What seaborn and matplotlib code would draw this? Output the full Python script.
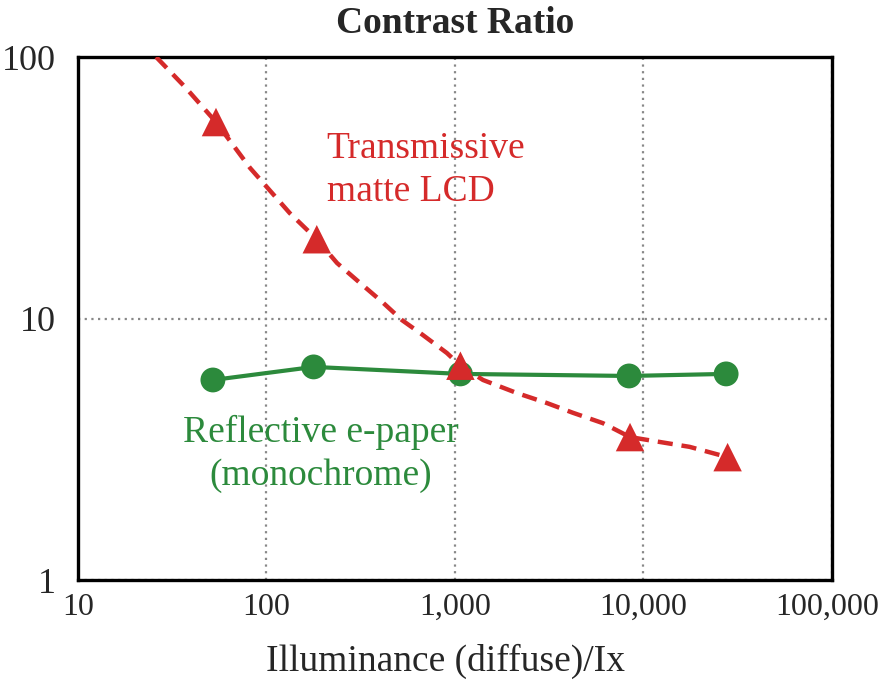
import matplotlib
matplotlib.use("Agg")
import matplotlib.pyplot as plt
import matplotlib.transforms as mtransforms
import seaborn as sns
import pandas as pd
from matplotlib.ticker import FixedLocator, NullLocator

# Data
lcd_x = [54, 185, 1070, 8500, 28000]
lcd_y = [56.4, 20.1, 6.6, 3.52, 2.95]
# dashed curve trace
lcd_curve_x = [26, 37, 54, 82, 133, 185, 237, 313, 410, 524, 676, 907, 1070,
               1410, 2130, 3080, 4230, 6100, 8500, 17600, 28000]
lcd_curve_y = [100, 76.8, 56.4, 37.6, 25.3, 20.1, 16.3, 13.7, 11.6, 9.86, 8.65,
               7.38, 6.6, 5.82, 5.19, 4.75, 4.36, 3.98, 3.52, 3.23, 2.95]

epaper_x = [52, 178, 1070, 8400, 27500]
epaper_y = [5.82, 6.53, 6.14, 6.03, 6.14]

x_ticks = [10, 100, 1000, 10000, 100000]
x_ticklabels = ["10", "100", "1,000", "10,000", "100,000"]
y_ticks = [1, 10, 100]
y_ticklabels = ["1", "10", "100"]

RED = "#d52a2a"
GREEN = "#2c8a3c"

sns.set_style("white")
plt.rcParams["font.family"] = ["Liberation Serif", "DejaVu Serif"]

fig = plt.figure(figsize=(8.83, 6.83), dpi=100)
ax = fig.add_axes([0.0883, 0.1508, 0.942 - 0.0883, 0.9165 - 0.1508])

ax.set_xscale("log")
ax.set_yscale("log")

curve = pd.DataFrame({"x": lcd_curve_x, "y": lcd_curve_y})
lcd = pd.DataFrame({"x": lcd_x, "y": lcd_y})
ep = pd.DataFrame({"x": epaper_x, "y": epaper_y})

sns.lineplot(data=ep, x="x", y="y", ax=ax, color=GREEN, lw=3.0, zorder=3)
sns.scatterplot(data=ep, x="x", y="y", ax=ax, color=GREEN, marker="o", s=320,
                edgecolor="none", zorder=4)
sns.lineplot(data=curve, x="x", y="y", ax=ax, color=RED, lw=3.2, zorder=5)
ax.lines[-1].set_dashes((3.4, 2.0))
sns.scatterplot(data=lcd, x="x", y="y", ax=ax, color=RED, marker="^", s=420,
                edgecolor="none", zorder=6)

ax.set_xlim(10, 100000)
ax.set_ylim(1, 100)

ax.xaxis.set_major_locator(FixedLocator(x_ticks))
ax.xaxis.set_minor_locator(NullLocator())
ax.yaxis.set_major_locator(FixedLocator(y_ticks))
ax.yaxis.set_minor_locator(NullLocator())
ax.set_xticklabels(x_ticklabels, fontsize=23)
ax.set_yticklabels(y_ticklabels, fontsize=26)
ax.tick_params(axis="x", length=0, pad=9)
ax.tick_params(axis="y", length=0, pad=16)

# nudge the last x label left so it stays inside the figure
last = ax.get_xticklabels()[-1]
last.set_transform(last.get_transform() +
                   mtransforms.ScaledTranslation(-5 / 100, 0, fig.dpi_scale_trans))

ax.grid(True, which="major", color="#888888", ls=(0, (1, 2)), lw=1.6)
for s in ax.spines.values():
    s.set_color("black")
    s.set_linewidth(2.4)
    s.set_visible(True)

ax.set_xlabel("Illuminance (diffuse)/Ix", fontsize=27, labelpad=16)
ax.xaxis.label.set_x(0.487)
ax.set_ylabel("")
ax.set_title("Contrast Ratio", fontsize=27, fontweight="bold", pad=17)

ax.text(0.370, 0.807, "Transmissive\nmatte LCD", transform=fig.transFigure,
        color=RED, fontsize=27, ha="left", va="top", linespacing=1.3)
ax.text(0.363, 0.392, "Reflective e-paper\n(monochrome)", transform=fig.transFigure,
        color=GREEN, fontsize=27, ha="center", va="top", linespacing=1.3)

fig.savefig("out.png", dpi=100)
